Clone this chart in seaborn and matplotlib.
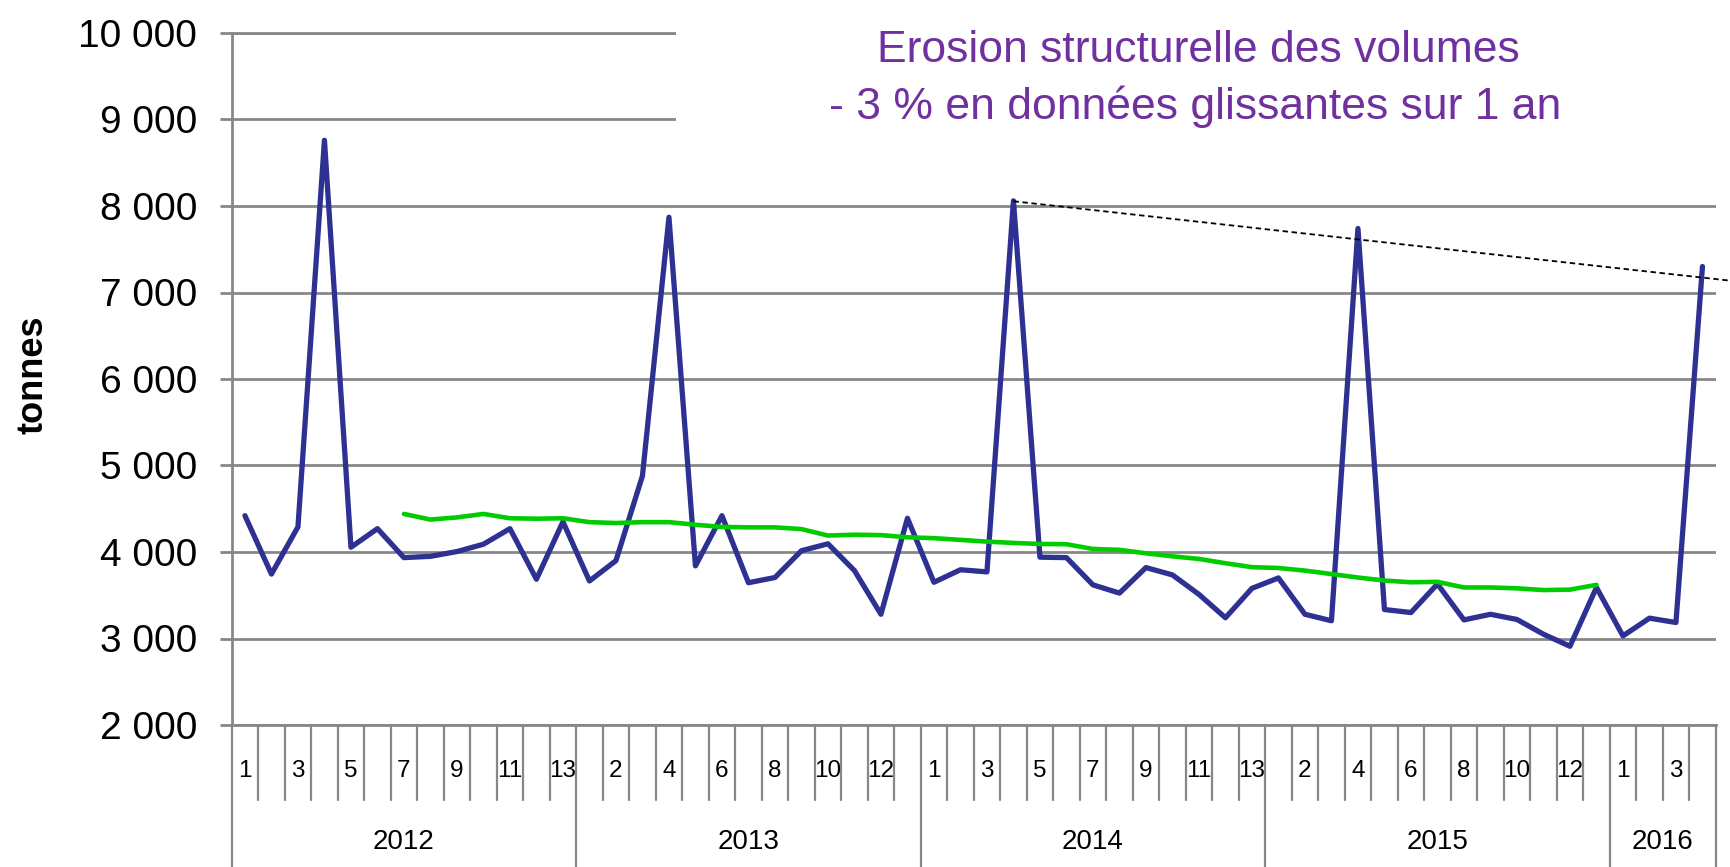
import matplotlib
matplotlib.use("Agg")
import matplotlib.pyplot as plt
import matplotlib.transforms as mtransforms
from matplotlib import font_manager
from matplotlib.patches import Rectangle
import seaborn as sns

# periods (13 per year, 4 so far in 2016)
years = ["2012", "2013", "2014", "2015", "2016"]
periods_per_year = [13, 13, 13, 13, 4]

# monthly volumes, tonnes
tonnes = [
    4420, 3745, 4290, 8760, 4055, 4270, 3935, 3950, 4005, 4090, 4270, 3685, 4350,
    3665, 3900, 4880, 7870, 3840, 4420, 3645, 3705, 4015, 4095, 3785, 3280, 4390,
    3650, 3795, 3770, 8060, 3940, 3935, 3620, 3525, 3820, 3735, 3510, 3240, 3580,
    3700, 3280, 3205, 7740, 3335, 3300, 3630, 3215, 3280, 3220, 3050, 2910, 3590,
    3030, 3235, 3185, 7300,
]

# rolling 13-period average, starts at period index 6
moving_avg_start = 6
moving_avg = [
    4440, 4375, 4400, 4440, 4390, 4385, 4390, 4345, 4335, 4345, 4345, 4315, 4290,
    4285, 4285, 4265, 4190, 4200, 4195, 4170, 4160, 4140, 4120, 4105, 4093, 4090,
    4035, 4025, 3985, 3950, 3920, 3870, 3825, 3815, 3785, 3745, 3705, 3670, 3650,
    3655, 3590, 3590, 3580, 3560, 3565, 3620,
]

# dashed erosion line
trend_x = [29, 56.1]
trend_y = [8055, 7135]

y_ticks = [2000, 3000, 4000, 5000, 6000, 7000, 8000, 9000, 10000]
title_lines = ["Erosion structurelle des volumes", "- 3 % en données glissantes sur 1 an"]

sns.set_theme(style="white")
plt.rcParams["font.family"] = ["Liberation Sans", "DejaVu Sans"]
plt.rcParams["text.color"] = "black"

names = {f.name for f in font_manager.fontManager.ttflist}
narrow = "Liberation Sans Narrow" if "Liberation Sans Narrow" in names else "Liberation Sans"
period_size = 20 if narrow == "Liberation Sans Narrow" else 17.5

GRAY = "#878787"
W, H = 1731, 867

fig = plt.figure(figsize=(W / 100, H / 100), dpi=100)
ax = fig.add_axes([231.7 / W, 142 / H, 1484 / W, 692 / H])

x = list(range(len(tonnes)))
sns.lineplot(x=x, y=tonnes, color="#2E3192", linewidth=3.8, ax=ax, zorder=3)
x_ma = x[moving_avg_start:moving_avg_start + len(moving_avg)]
sns.lineplot(x=x_ma, y=moving_avg, color="#00CC00", linewidth=3.3, ax=ax, zorder=4)
ax.plot(trend_x, trend_y, color="black", linestyle=(0, (3, 2)), linewidth=1.3,
        clip_on=False, zorder=5)

n = len(tonnes)
ax.set_xlim(-0.5, n - 0.5)
ax.set_ylim(y_ticks[0], y_ticks[-1])
ax.set_yticks(y_ticks)
ax.set_yticklabels([f"{v:,}".replace(",", " ") for v in y_ticks])
ax.set_xticks([])
ax.set_xlabel("")
ax.set_ylabel("")
ax.grid(axis="y", color=GRAY, linewidth=2.0)
ax.tick_params(axis="y", length=9, width=2.0, color=GRAY, pad=16, labelsize=28,
               left=True, labelcolor="black")
for side in ["top", "bottom", "left"]:
    ax.spines[side].set_visible(True)
    ax.spines[side].set_color(GRAY)
    ax.spines[side].set_linewidth(2.0)
ax.spines["right"].set_visible(False)

# two-level category axis below the plot
trans = mtransforms.blended_transform_factory(ax.transData, ax.transAxes)
short_y, long_y = -75 / 692, -142 / 692
period_nums = [p for count in periods_per_year for p in range(1, count + 1)]
boundaries = []
pos = 0
for count in periods_per_year:
    boundaries.append(pos)
    pos += count
boundaries.append(pos)

for b in range(0, n + 1):
    bottom = long_y if b in boundaries else short_y
    ax.plot([b - 0.5, b - 0.5], [0, bottom], transform=trans, color=GRAY,
            linewidth=1.6, clip_on=False)

for i in range(0, n, 2):
    ax.text(i, -46 / 692, str(period_nums[i]), transform=trans, ha="center",
            va="center", fontsize=period_size, family=narrow)

for year, start, count in zip(years, boundaries[:-1], periods_per_year):
    ax.text(start + count / 2 - 0.5, -117 / 692, year, transform=trans, ha="center",
            va="center", fontsize=20)

# white box behind the annotation hides the upper gridlines
fig.patches.append(Rectangle((676 / W, 1 - 165 / H), 1 - 676 / W, 165 / H,
                             transform=fig.transFigure, facecolor="white",
                             edgecolor="none", zorder=1))
fig.text(1198 / W, 1 - 50 / H, title_lines[0], ha="center", va="center",
         fontsize=32, color="#7030A0", zorder=3)
fig.text(1195 / W, 1 - 107 / H, title_lines[1], ha="center", va="center",
         fontsize=32, color="#7030A0", zorder=3)

fig.text(33 / W, 1 - 375 / H, "tonnes", rotation=90, ha="center", va="center",
         fontsize=26, fontweight="bold", color="black")

fig.savefig("out.png", dpi=100)
plt.close(fig)
